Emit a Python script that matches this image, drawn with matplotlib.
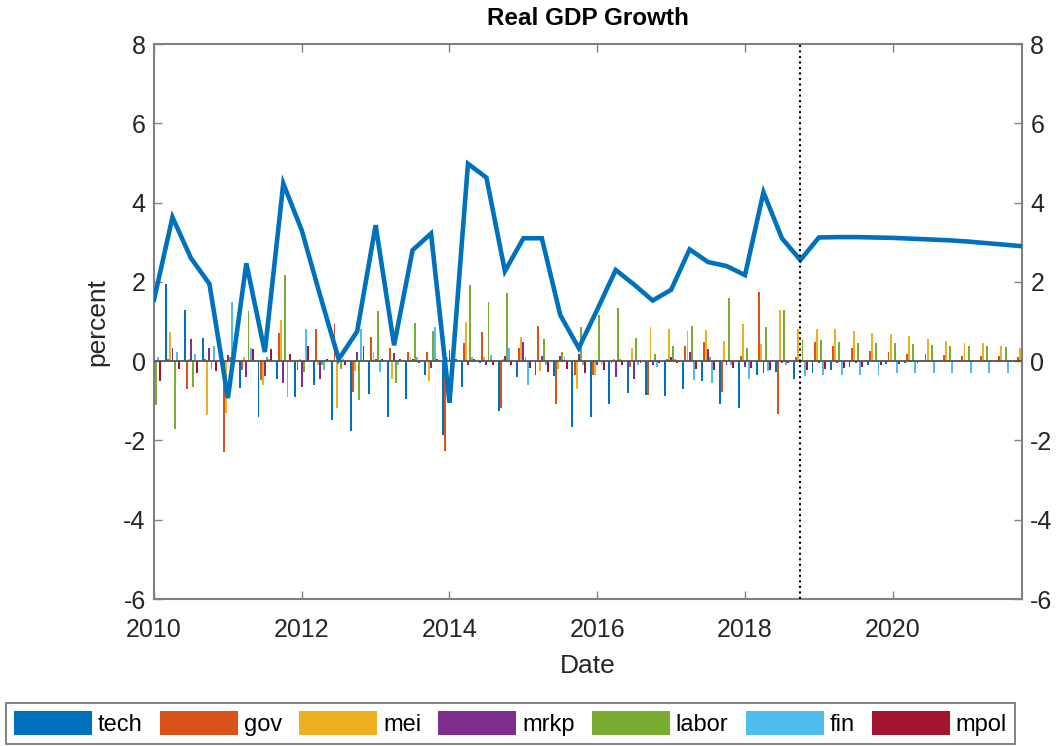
import numpy as np
import matplotlib
matplotlib.use("Agg")
import matplotlib.pyplot as plt

plt.rcParams['font.family'] = ['Liberation Sans', 'DejaVu Sans']
plt.rcParams['axes.unicode_minus'] = False

# quarterly dates 2010Q1 .. 2021Q4
dates = 2010 + np.arange(48) / 4.0

gdp = [1.55, 3.63, 2.6, 1.95, -0.93, 2.47, 0.23, 4.48, 3.3, 1.65,
       0.05, 0.75, 3.43, 0.4, 2.8, 3.22, -1.05, 4.98, 4.63, 2.27,
       3.1, 3.1, 1.16, 0.33, 1.3, 2.3, 1.93, 1.53, 1.8, 2.82,
       2.5, 2.4, 2.17, 4.26, 3.1, 2.55, 3.12, 3.13, 3.13, 3.12,
       3.11, 3.09, 3.07, 3.05, 3.02, 2.98, 2.94, 2.9]

tech = [0.3, 1.95, 1.29, 0.59, -0.2, -0.67, -1.4, -0.46, -0.9, -0.6,
        -1.49, -1.76, -0.83, -1.4, -0.96, -0.35, -1.87, -0.65, -0.05, -1.25,
        -0.4, -0.34, -0.37, -1.67, -1.4, -1.09, -0.8, -0.85, -0.87, -0.71,
        -0.5, -1.07, -1.19, -0.34, -0.27, -0.44, -0.3, -0.23, -0.14, -0.1,
        -0.07, -0.05, -0.03, -0.02, -0.02, -0.01, -0.01, -0.01]
gov = [0.1, 0.05, -0.69, 0.05, -2.3, -0.23, -0.48, 0.7, -0.23, 0.8,
       0.95, -0.77, 0.61, 0.32, 0.24, 0.24, -2.27, 0.46, 0.74, -1.17,
       0.34, 0.88, -1.08, -0.35, -0.35, -0.05, -0.15, -0.85, 0.05, 0.38,
       0.49, -0.77, 0.13, 1.75, -1.34, 0.1, 0.49, 0.39, 0.32, 0.26,
       0.22, 0.19, 0.18, 0.15, 0.14, 0.12, 0.12, 0.11]
mei = [0.2, 0.74, 0.05, -1.36, -1.3, 0.1, -0.6, 1.05, 0.05, -0.1,
       -1.19, -0.25, 0.24, -0.44, 0.1, -0.5, 0.1, 0.99, 0.1, 0.05,
       0.61, -0.25, -0.2, -0.7, -0.35, 0.05, 0.32, 0.85, 0.8, 0.76,
       0.78, 0.5, 0.95, 0.43, 1.3, 0.82, 0.82, 0.8, 0.76, 0.71,
       0.68, 0.64, 0.57, 0.51, 0.47, 0.45, 0.39, 0.34]
mrkp = [0.1, 0.34, 0.55, 0.32, 0.15, -0.4, -0.38, -0.56, -0.65, -0.44,
        0.05, 0.24, 0.05, 0.2, 0.05, -0.17, 0.28, -0.1, -0.1, 0.13,
        0.49, 0.13, 0.13, 0.19, -0.1, -0.41, -0.44, -0.1, 0.1, 0.24,
        0.3, -0.1, -0.14, -0.29, -0.05, -0.05, -0.05, -0.04, -0.04, -0.03,
        -0.03, -0.02, -0.02, -0.02, -0.01, -0.01, -0.01, -0.01]
labor = [-1.1, -1.7, -0.65, -0.2, 0.1, 1.26, 0.1, 2.17, -0.27, -0.1,
         -0.2, -0.98, 1.26, -0.55, 0.97, 0.76, 0.05, 1.92, 1.48, 1.73,
         0.1, 0.55, 0.24, 0.87, 1.16, 1.34, 0.59, 0.19, 0.39, 0.89,
         0.1, 1.6, 0.32, 0.85, 1.3, 0.55, 0.53, 0.49, 0.46, 0.45,
         0.45, 0.43, 0.4, 0.39, 0.39, 0.38, 0.37, 0.36]
fin = [0.1, 0.23, 0.19, 0.38, 1.5, 0.34, 0.05, -0.9, 0.82, -0.23,
       0.05, 0.8, -0.27, -0.1, 0.1, 0.87, 0.05, 0.1, 0.15, 0.34,
       -0.59, -0.1, 0.1, -0.1, -0.1, 0.05, -0.1, -0.14, 0.05, -0.48,
       -0.56, -0.1, -0.44, -0.24, -0.1, -0.38, -0.35, -0.35, -0.35, -0.34,
       -0.31, -0.31, -0.31, -0.3, -0.3, -0.3, -0.29, -0.29]
mpol = [-0.5, -0.2, -0.3, -0.25, 0.05, 0.3, 0.3, 0.19, 0.38, 0.05,
        -0.1, 0.38, 0.05, 0.05, -0.05, 0.05, 0.05, 0.05, -0.1, -0.1,
        -0.18, -0.27, -0.2, -0.31, -0.23, -0.1, -0.05, -0.05, -0.05, -0.2,
        -0.23, -0.17, -0.18, -0.23, -0.05, -0.23, -0.21, -0.18, -0.14, -0.1,
        -0.07, -0.05, -0.03, -0.03, -0.02, -0.02, -0.01, -0.01]

names = ['tech', 'gov', 'mei', 'mrkp', 'labor', 'fin', 'mpol']
series = [tech, gov, mei, mrkp, labor, fin, mpol]
colors = ['#0072BD', '#D95319', '#EDB120', '#7E2F8E', '#77AC30', '#4DBEEE', '#A2142F']

fig = plt.figure(figsize=(10.57, 7.46), dpi=100)
ax = fig.add_axes([0.1457, 0.197, 0.8212, 0.744])

# grouped bars, matlab style
step = 0.25 * 0.8 / 7
for k, (vals, c, n) in enumerate(zip(series, colors, names)):
    ax.bar(dates + (k - 3) * step, vals, width=step * 0.9, color=c, label=n,
           linewidth=0, zorder=2)

ax.axhline(0, color='#555555', lw=1.3, zorder=3)
ax.plot(dates, gdp, color='#0072BD', lw=3.3, zorder=4, solid_joinstyle='miter')
ax.axvline(2018.75, color='black', ls=':', lw=1.5, zorder=5)

ax.set_xlim(2010, 2021.75)
ax.set_ylim(-6, 8)
ax.set_xticks(np.arange(2010, 2021, 2))
ax.set_yticks(np.arange(-6, 9, 2))
ax.tick_params(direction='in', length=6, width=1, colors='#808080',
               labelcolor='#262626', labelsize=18, top=True, right=True,
               labelright=True)
ax.tick_params(axis='x', pad=14)
ax.tick_params(axis='y', pad=6)
for s in ax.spines.values():
    s.set_color('#808080')
    s.set_linewidth(1.5)

ax.set_title('Real GDP Growth', fontsize=17.5, fontweight='bold', pad=14)
ax.set_xlabel('Date', fontsize=19, color='#262626', labelpad=8)
ax.set_ylabel('percent', fontsize=19, color='#262626', labelpad=10)

leg = fig.legend(loc='upper center', bbox_to_anchor=(0.483, 1 - 703 / 746), ncol=7,
                 fontsize=17, handlelength=3.3, handleheight=1.15,
                 handletextpad=0.25, columnspacing=0.73, borderpad=0.35,
                 frameon=True, fancybox=False, borderaxespad=0)
leg.get_frame().set_edgecolor('#555555')
leg.get_frame().set_linewidth(1.3)

fig.savefig('out.png', dpi=100)
